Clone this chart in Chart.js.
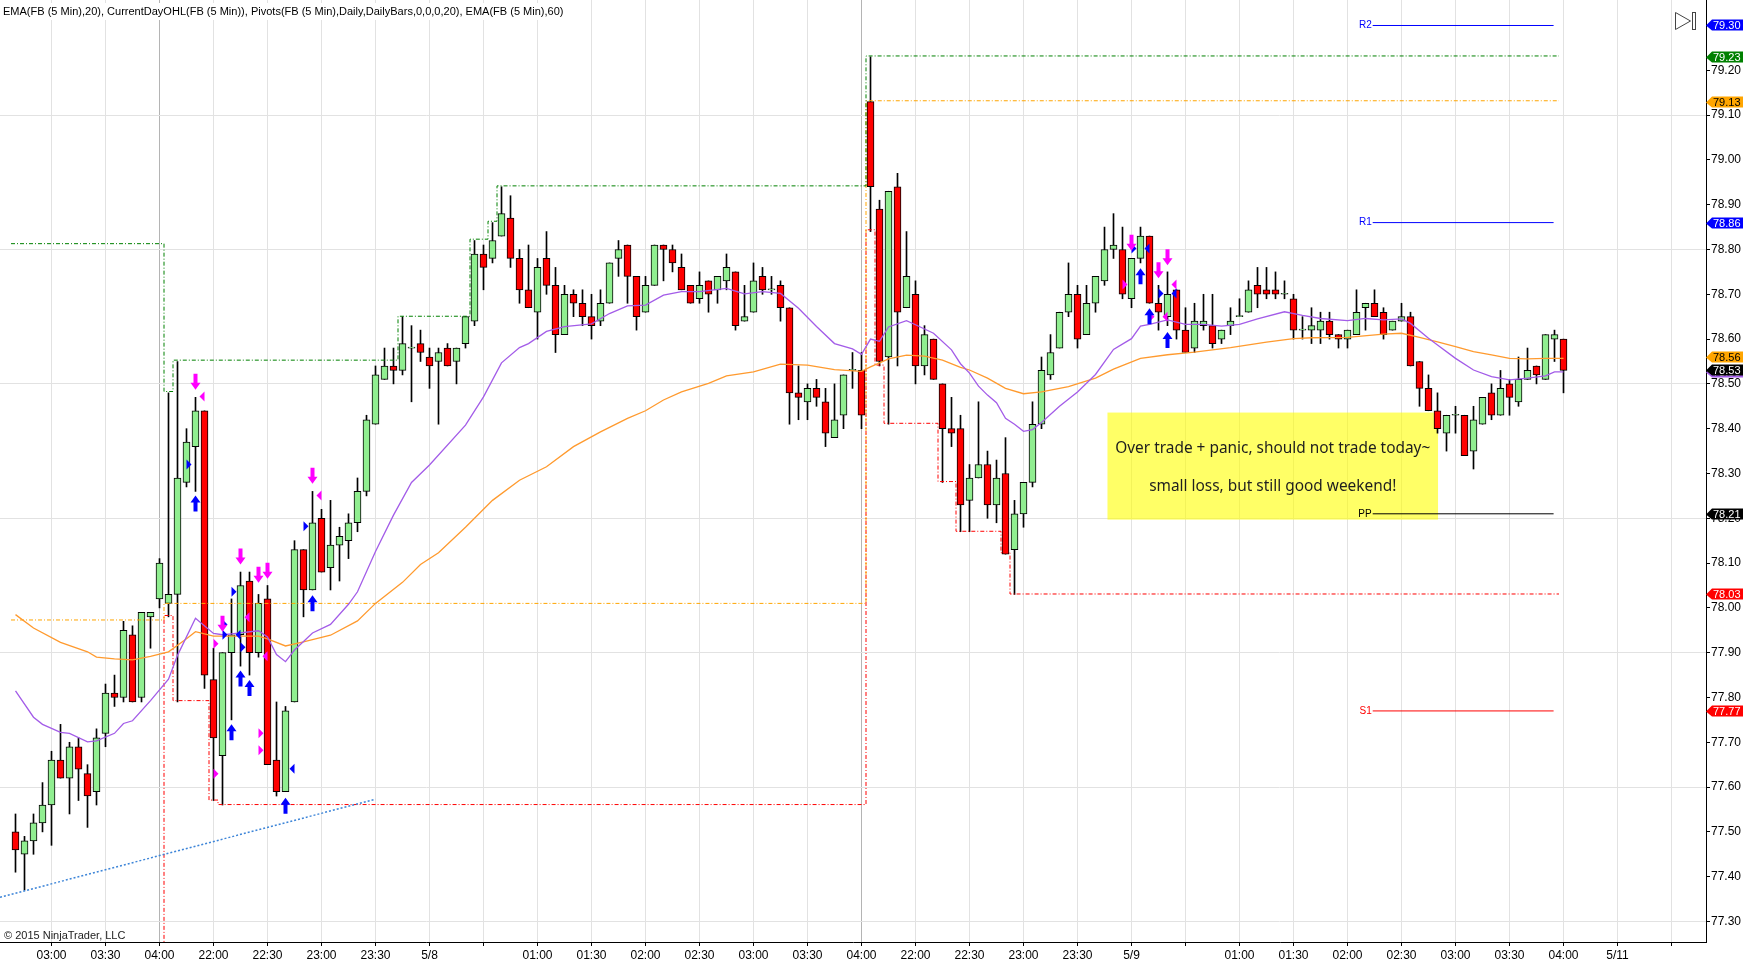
<!DOCTYPE html>
<html>
<head>
<meta charset="utf-8">
<script src="https://cdn.jsdelivr.net/npm/chart.js@4.4.1/dist/chart.umd.min.js"></script>
<style>
  html, body { margin: 0; padding: 0; background: #fff; }
  #wrap { width: 1752px; height: 969px; }
</style>
</head>
<body>
<div id="wrap"><canvas id="chart" width="1752" height="969"></canvas></div>
<script>
// FB 5 min bars, 02:40 (first session) .. 04:00 (third session), index = bar number
const opens = [
  77.50, 77.45, 77.48, 77.52, 77.56, 77.66, 77.62, 77.69, 77.63, 77.59,
  77.72, 77.81, 77.80, 77.94, 77.80, 77.98, 78.02, 78.01, 78.03, 78.28,
  78.36, 78.44, 77.84, 77.67, 77.90, 77.94, 78.06, 77.90, 78.02, 77.66,
  77.59, 77.79, 78.13, 78.04, 78.20, 78.09, 78.14, 78.15, 78.19, 78.26,
  78.41, 78.51, 78.54, 78.53, 78.58, 78.59, 78.56, 78.55, 78.58, 78.55,
  78.59, 78.64, 78.79, 78.78, 78.83, 78.87, 78.78, 78.71, 78.66, 78.78,
  78.72, 78.61, 78.70, 78.68, 78.65, 78.64, 78.68, 78.78, 78.81, 78.74,
  78.66, 78.72, 78.81, 78.80, 78.76, 78.72, 78.69, 78.73, 78.71, 78.73,
  78.75, 78.64, 78.66, 78.74, 78.71, 78.72, 78.67, 78.48, 78.46, 78.49,
  78.46, 78.38, 78.43, 78.53, 78.53, 79.13, 78.89, 78.56, 78.94, 78.67,
  78.70, 78.54, 78.60, 78.50, 78.40, 78.40, 78.24, 78.29, 78.32, 78.23,
  78.30, 78.13, 78.21, 78.28, 78.41, 78.52, 78.58, 78.66, 78.70, 78.61,
  78.68, 78.73, 78.80, 78.80, 78.69, 78.78, 78.83, 78.68, 78.65, 78.71,
  78.62, 78.58, 78.63, 78.63, 78.60, 78.63, 78.65, 78.66, 78.72, 78.71,
  78.71, 78.70, 78.69, 78.62, 78.62, 78.62, 78.64, 78.61, 78.60, 78.61,
  78.67, 78.68, 78.66, 78.62, 78.64, 78.65, 78.55, 78.49, 78.44, 78.39,
  78.43, 78.43, 78.35, 78.41, 78.48, 78.43, 78.50, 78.46, 78.51, 78.54,
  78.51, 78.60, 78.60
];
const highs = [
  77.54, 77.49, 77.54, 77.61, 77.68, 77.74, 77.70, 77.71, 77.65, 77.73,
  77.83, 77.85, 77.97, 77.96, 77.99, 77.99, 78.11, 78.48, 78.55, 78.40,
  78.47, 78.44, 77.91, 77.90, 78.02, 78.08, 78.08, 78.03, 78.05, 77.79,
  77.78, 78.15, 78.13, 78.26, 78.22, 78.24, 78.18, 78.21, 78.29, 78.43,
  78.54, 78.58, 78.58, 78.65, 78.63, 78.62, 78.58, 78.58, 78.59, 78.58,
  78.65, 78.82, 78.81, 78.86, 78.94, 78.92, 78.80, 78.81, 78.78, 78.84,
  78.76, 78.72, 78.71, 78.71, 78.70, 78.71, 78.77, 78.82, 78.81, 78.74,
  78.74, 78.81, 78.81, 78.81, 78.79, 78.72, 78.75, 78.73, 78.74, 78.79,
  78.75, 78.72, 78.77, 78.76, 78.74, 78.73, 78.67, 78.54, 78.50, 78.51,
  78.49, 78.50, 78.52, 78.57, 78.57, 79.23, 78.91, 78.93, 78.97, 78.84,
  78.73, 78.63, 78.60, 78.50, 78.47, 78.43, 78.32, 78.46, 78.35, 78.33,
  78.38, 78.24, 78.28, 78.46, 78.56, 78.61, 78.66, 78.77, 78.72, 78.72,
  78.74, 78.85, 78.88, 78.85, 78.78, 78.85, 78.83, 78.72, 78.75, 78.71,
  78.67, 78.68, 78.70, 78.70, 78.62, 78.67, 78.69, 78.73, 78.76, 78.76,
  78.75, 78.73, 78.70, 78.65, 78.67, 78.66, 78.66, 78.61, 78.62, 78.71,
  78.68, 78.71, 78.67, 78.64, 78.68, 78.66, 78.55, 78.52, 78.48, 78.43,
  78.45, 78.43, 78.45, 78.47, 78.50, 78.53, 78.51, 78.56, 78.58, 78.54,
  78.61, 78.62, 78.60
];
const lows = [
  77.41, 77.37, 77.45, 77.50, 77.47, 77.62, 77.54, 77.57, 77.51, 77.56,
  77.69, 77.78, 77.79, 77.79, 77.79, 77.91, 78.00, 77.98, 77.79, 78.27,
  78.26, 77.82, 77.57, 77.56, 77.75, 77.87, 77.85, 77.89, 77.65, 77.58,
  77.59, 77.79, 77.98, 78.04, 78.08, 78.04, 78.06, 78.11, 78.17, 78.25,
  78.41, 78.51, 78.50, 78.52, 78.46, 78.55, 78.49, 78.41, 78.54, 78.50,
  78.58, 78.63, 78.71, 78.77, 78.83, 78.76, 78.68, 78.67, 78.60, 78.70,
  78.57, 78.61, 78.65, 78.63, 78.60, 78.63, 78.68, 78.74, 78.68, 78.62,
  78.66, 78.72, 78.73, 78.75, 78.71, 78.68, 78.68, 78.66, 78.68, 78.71,
  78.62, 78.64, 78.66, 78.70, 78.70, 78.64, 78.41, 78.42, 78.42, 78.45,
  78.36, 78.38, 78.40, 78.49, 78.40, 78.84, 78.54, 78.41, 78.54, 78.67,
  78.50, 78.52, 78.51, 78.28, 78.36, 78.17, 78.17, 78.29, 78.20, 78.19,
  78.12, 78.03, 78.18, 78.27, 78.40, 78.51, 78.58, 78.65, 78.58, 78.61,
  78.66, 78.72, 78.78, 78.69, 78.67, 78.77, 78.68, 78.62, 78.63, 78.60,
  78.57, 78.57, 78.62, 78.58, 78.59, 78.61, 78.65, 78.66, 78.67, 78.69,
  78.69, 78.69, 78.60, 78.60, 78.59, 78.59, 78.60, 78.58, 78.58, 78.61,
  78.62, 78.65, 78.60, 78.62, 78.64, 78.54, 78.45, 78.44, 78.39, 78.35,
  78.39, 78.34, 78.31, 78.41, 78.42, 78.43, 78.43, 78.45, 78.51, 78.50,
  78.51, 78.55, 78.48
];
const closes = [
  77.46, 77.48, 77.52, 77.56, 77.66, 77.62, 77.69, 77.64, 77.58, 77.71,
  77.81, 77.80, 77.95, 77.79, 77.99, 77.99, 78.10, 78.03, 78.29, 78.37,
  78.44, 77.85, 77.71, 77.90, 77.94, 78.05, 77.90, 78.01, 77.65, 77.59,
  77.77, 78.13, 78.04, 78.19, 78.08, 78.14, 78.16, 78.19, 78.26, 78.42,
  78.52, 78.54, 78.53, 78.59, 78.58, 78.57, 78.54, 78.57, 78.54, 78.58,
  78.65, 78.79, 78.76, 78.82, 78.88, 78.78, 78.71, 78.67, 78.76, 78.72,
  78.61, 78.70, 78.68, 78.65, 78.63, 78.68, 78.77, 78.80, 78.74, 78.65,
  78.72, 78.81, 78.80, 78.77, 78.71, 78.68, 78.72, 78.70, 78.74, 78.76,
  78.63, 78.65, 78.73, 78.71, 78.71, 78.67, 78.48, 78.47, 78.49, 78.47,
  78.39, 78.42, 78.52, 78.53, 78.43, 78.94, 78.55, 78.93, 78.66, 78.74,
  78.54, 78.61, 78.51, 78.40, 78.39, 78.23, 78.29, 78.32, 78.23, 78.29,
  78.12, 78.21, 78.28, 78.41, 78.53, 78.57, 78.66, 78.70, 78.60, 78.68,
  78.74, 78.80, 78.81, 78.70, 78.78, 78.83, 78.68, 78.66, 78.70, 78.62,
  78.57, 78.64, 78.64, 78.59, 78.62, 78.64, 78.65, 78.71, 78.70, 78.70,
  78.70, 78.70, 78.62, 78.62, 78.63, 78.64, 78.61, 78.60, 78.62, 78.66,
  78.68, 78.65, 78.61, 78.64, 78.65, 78.54, 78.49, 78.44, 78.40, 78.43,
  78.43, 78.34, 78.42, 78.47, 78.43, 78.49, 78.47, 78.51, 78.53, 78.52,
  78.61, 78.61, 78.53
];

// EMA(20) and EMA(60) at these bars
const ema20Bars = [0,2,3,5,6,8,9,11,12,13,15,17,18,20,22,23,24,27,28,29,30,31,33,35,37,38,40,42,44,46,
  50,52,54,56,57,59,61,64,66,68,70,72,74,76,79,81,83,85,87,89,91,93,94,95,96,97,99,100,102,104,
  105,106,107,108,109,110,111,112,113,114,116,118,120,122,124,125,126,128,130,132,134,136,138,141,143,145,148,150,152,154,
  155,157,158,160,162,164,166,168,170,171,172];
const ema20Vals = [77.815,77.756,77.740,77.722,77.720,77.701,77.703,77.720,77.742,77.748,77.793,77.841,77.894,77.977,77.943,77.940,77.942,77.949,77.935,77.896,
  77.880,77.906,77.944,77.963,78.008,78.036,78.126,78.207,78.280,78.319,78.408,78.471,78.547,78.581,78.590,78.617,78.628,78.634,78.657,78.674,
  78.676,78.698,78.706,78.706,78.713,78.701,78.706,78.702,78.669,78.628,78.590,78.578,78.566,78.600,78.595,78.627,78.641,78.632,78.613,78.576,
  78.545,78.524,78.495,78.475,78.458,78.423,78.410,78.394,78.398,78.414,78.450,78.482,78.521,78.577,78.601,78.629,78.633,78.643,78.633,78.633,
  78.629,78.633,78.645,78.661,78.653,78.646,78.641,78.646,78.643,78.645,78.635,78.602,78.587,78.557,78.531,78.516,78.509,78.513,78.518,78.527,
  78.527];
const ema60Bars = [0,2,5,8,9,11,13,15,17,19,20,22,25,27,28,30,32,35,38,40,43,45,47,50,53,56,59,62,65,68,
  70,72,74,77,79,82,85,88,91,94,95,97,99,101,103,105,106,108,110,112,114,117,120,122,125,128,131,135,139,142,
  144,148,152,154,156,158,160,162,164,166,168,170,172];
const ema60Vals = [77.985,77.955,77.923,77.902,77.890,77.886,77.884,77.892,77.902,77.931,77.947,77.937,77.937,77.937,77.931,77.915,77.924,77.939,77.971,78.010,
  78.057,78.097,78.123,78.180,78.240,78.285,78.315,78.360,78.393,78.423,78.440,78.464,78.482,78.501,78.518,78.527,78.544,78.542,78.532,78.528,
  78.538,78.556,78.564,78.562,78.553,78.537,78.531,78.513,78.490,78.478,78.482,78.494,78.513,78.533,78.557,78.565,78.571,78.581,78.593,78.601,
  78.603,78.604,78.611,78.613,78.604,78.594,78.583,78.572,78.565,78.557,78.556,78.557,78.557];

// CurrentDayOHL steps: bar where a new value starts, value
const highStepBars = [0, 17, 18, 43, 51, 53, 54, 95];
const highStepVals = [78.813, 78.483, 78.553, 78.651, 78.823, 78.863, 78.942, 79.232];
const openStepBars = [0, 17, 95];
const openStepVals = [77.973, 78.010, 79.132];
const lowStepBars = [0, 17, 18, 22, 23, 95, 96, 97, 103, 105, 110, 111];
const lowStepVals = [77.0, 77.983, 77.793, 77.571, 77.561, 78.844, 78.542, 78.412, 78.282, 78.171, 78.123, 78.031];

// daily pivots
const pivotNames = ['R2', 'R1', 'PP', 'S1'];
const pivotValues = [79.30, 78.86, 78.21, 77.77];

// hand drawn trend line (bar, price)
const trendBars = [-1.72, 40.0];
const trendPrices = [77.354, 77.573];

// trade markers
const sellArrowBars = [20, 23, 25, 27, 28, 33, 124, 127, 128];
const sellArrowPrices = [78.487, 77.947, 78.097, 78.056, 78.065, 78.277, 78.797, 78.736, 78.765];
const buyArrowBars = [20, 24, 25, 26, 30, 33, 125, 126, 128];
const buyArrowPrices = [78.251, 77.740, 77.860, 77.839, 77.576, 78.028, 78.758, 78.669, 78.616];
const fillBars = [20, 20, 25, 24, 24, 24, 26, 23, 25, 27, 28, 28, 23, 30, 33, 33, 124, 125, 125, 128, 128, 128, 127, 127];
const fillPrices = [78.472, 78.320, 78.036, 77.963, 77.940, 77.940, 77.912, 77.920, 77.979, 77.892, 77.720, 77.682,
  77.630, 77.641, 78.251, 78.182, 78.722, 78.802, 78.802, 78.722, 78.702, 78.702, 78.650, 78.650];
const fillSides = ['l','r','r','r','r','l','r','r','l','l','r','r','r','l','l','r','r','r','l','l','r','l','r','l'];
const fillBuy = [0,1,1,1,1,1,1,0,0,0,0,0,0,1,0,1,0,1,1,0,1,1,0,0];

// price flags on the right axis
const flagValues = [79.30, 79.23, 79.13, 78.86, 78.56, 78.527, 78.53, 78.21, 78.03, 77.77];

// axis ticks
const xTickBars = [4, 10, 16, 22, 28, 34, 40, 46, 52, 58, 64, 70, 76, 82, 88, 94, 100, 106, 112, 118, 124, 130, 136, 142, 148, 154, 160, 166, 172, 178, 184];
const xTickText = ['03:00','03:30','04:00','22:00','22:30','23:00','23:30','5/8','','01:00','01:30','02:00','02:30','03:00','03:30','04:00',
  '22:00','22:30','23:00','23:30','5/9','','01:00','01:30','02:00','02:30','03:00','03:30','04:00','5/11',''];
const sessionEnds = [16, 94];
const yTickValues = [77.30, 77.40, 77.50, 77.60, 77.70, 77.80, 77.90, 78.00, 78.10, 78.20,
  78.30, 78.40, 78.50, 78.60, 78.70, 78.80, 78.90, 79.00, 79.10, 79.20];
const yGridValues = [77.30, 77.60, 77.90, 78.20, 78.50, 78.80, 79.10];

// ---- styles / layout ----
const UP = '#90ee90', DOWN = '#ff0000';
const flagFills = ['#0000ff', '#008000', '#ffa500', '#0000ff', '#ffa500', '#a35ce8', '#000000', '#000000', '#ff0000', '#ff0000'];
const flagInk = ['#fff', '#fff', '#000', '#fff', '#000', '#fff', '#fff', '#fff', '#fff', '#fff'];
const pivotColors = ['#0000ff', '#0000ff', '#000000', '#ff0000'];
const pivotFrom = 150.8, pivotTo = 170.9;
const stepEnd = 171.5;
const note = { from: 121.33, to: 158.06, top: 78.436, bottom: 78.197 };
const noteLines = ['Over trade + panic, should not trade today~', 'small loss, but still good weekend!'];
const headerText = 'EMA(FB (5 Min),20), CurrentDayOHL(FB (5 Min)), Pivots(FB (5 Min),Daily,DailyBars,0,0,0,20), EMA(FB (5 Min),60)';
const xMin = -15.5 / 9, xMax = -15.5 / 9 + 1706 / 9;
const yMin = 77.2542, yMax = 79.3569;
const SANS = '"Liberation Sans", Arial, sans-serif';

function stepPoints(starts, vals, end) {
  const pts = starts.map((s, k) => ({ x: s - 0.5, y: vals[k] }));
  pts.push({ x: end, y: vals[vals.length - 1] });
  return pts;
}

function arrow(ctx, cx, tipY, dir, color) {
  // dir 1: pointing down, -1: pointing up
  const h = 16, head = 7, hw = 5, sw = 2;
  ctx.fillStyle = color;
  ctx.beginPath();
  ctx.moveTo(cx, tipY);
  ctx.lineTo(cx - hw, tipY - dir * head);
  ctx.lineTo(cx - sw, tipY - dir * head);
  ctx.lineTo(cx - sw, tipY - dir * h);
  ctx.lineTo(cx + sw, tipY - dir * h);
  ctx.lineTo(cx + sw, tipY - dir * head);
  ctx.lineTo(cx + hw, tipY - dir * head);
  ctx.closePath();
  ctx.fill();
}

const overlay = {
  id: 'overlay',
  beforeDatasetsDraw(chart) {
    const { ctx, scales: { x, y } } = chart;
    const l = x.getPixelForValue(note.from), r = x.getPixelForValue(note.to);
    const t = y.getPixelForValue(note.top), b = y.getPixelForValue(note.bottom);
    ctx.save();
    ctx.fillStyle = 'rgba(255, 255, 0, 0.6)';
    ctx.fillRect(l, t, r - l, b - t);
    let size = 16;
    ctx.font = size + 'px "Noto Sans"';
    size = size * 315 / ctx.measureText(noteLines[0]).width;
    ctx.font = size.toFixed(2) + 'px "Noto Sans"';
    ctx.fillStyle = '#1e1e1e';
    ctx.textAlign = 'center';
    ctx.textBaseline = 'middle';
    ctx.fillText(noteLines[0], (l + r) / 2, t + 36);
    ctx.fillText(noteLines[1], (l + r) / 2, t + 74);
    ctx.restore();
  },
  afterDatasetsDraw(chart) {
    const { ctx, scales: { x, y } } = chart;
    ctx.save();
    // pivot labels
    ctx.font = '10px ' + SANS;
    ctx.textAlign = 'right';
    ctx.textBaseline = 'middle';
    pivotNames.forEach((n, k) => {
      ctx.fillStyle = pivotColors[k];
      ctx.fillText(n, x.getPixelForValue(pivotFrom) - 1, y.getPixelForValue(pivotValues[k]));
    });
    // executions
    fillBars.forEach((b, k) => {
      const cx = x.getPixelForValue(b), cy = y.getPixelForValue(fillPrices[k]);
      const s = fillSides[k] === 'r' ? -1 : 1;
      ctx.fillStyle = fillBuy[k] ? '#0000ff' : '#ff00ff';
      ctx.beginPath();
      ctx.moveTo(cx + s * 4, cy);
      ctx.lineTo(cx + s * 9, cy - 5);
      ctx.lineTo(cx + s * 9, cy + 5);
      ctx.closePath();
      ctx.fill();
    });
    sellArrowBars.forEach((b, k) => arrow(ctx, x.getPixelForValue(b), y.getPixelForValue(sellArrowPrices[k]), 1, '#ff00ff'));
    buyArrowBars.forEach((b, k) => arrow(ctx, x.getPixelForValue(b), y.getPixelForValue(buyArrowPrices[k]), -1, '#0000ff'));
    ctx.restore();
  },
  afterDraw(chart) {
    const { ctx, scales: { y }, chartArea } = chart;
    ctx.save();
    // header
    ctx.textBaseline = 'middle';
    ctx.textAlign = 'left';
    let size = 11;
    ctx.font = size + 'px ' + SANS;
    size = size * 561 / ctx.measureText(headerText).width;
    ctx.font = size.toFixed(2) + 'px ' + SANS;
    ctx.fillStyle = '#fff';
    ctx.fillRect(0, 3, 566, 17);
    ctx.fillStyle = '#000';
    ctx.fillText(headerText, 3, 12);
    // copyright
    ctx.font = '11px ' + SANS;
    ctx.fillStyle = '#222';
    ctx.fillText('\u00a9 2015 NinjaTrader, LLC', 4, 936);
    // scroll-to-end icon
    ctx.strokeStyle = '#444';
    ctx.lineWidth = 1;
    ctx.beginPath();
    ctx.moveTo(1675.5, 12.5); ctx.lineTo(1690.5, 21); ctx.lineTo(1675.5, 29.5); ctx.closePath();
    ctx.stroke();
    ctx.strokeRect(1692.5, 12.5, 3, 17);
    // price flags
    const ax = chartArea.right;
    ctx.font = '11px ' + SANS;
    flagValues.forEach((v, k) => {
      const cy = Math.round(y.getPixelForValue(v)) + 0.5;
      ctx.fillStyle = flagFills[k];
      ctx.beginPath();
      ctx.moveTo(ax, cy);
      ctx.lineTo(ax + 6, cy - 6);
      ctx.lineTo(ax + 37, cy - 6);
      ctx.lineTo(ax + 37, cy + 5);
      ctx.lineTo(ax + 6, cy + 5);
      ctx.closePath();
      ctx.fill();
      ctx.fillStyle = flagInk[k];
      ctx.fillText(v.toFixed(2), ax + 7, cy);
    });
    ctx.restore();
  }
};

const bodyColors = opens.map((o, i) => closes[i] >= o ? UP : DOWN);

const chart = new Chart(document.getElementById('chart').getContext('2d'), {
  type: 'bar',
  data: {
    datasets: [
      {
        label: 'wicks',
        data: lows.map((l, i) => ({ x: i, y: [l, highs[i]] })),
        backgroundColor: '#000',
        barThickness: 1,
        grouped: false,
        order: 20
      },
      {
        label: 'bodies',
        data: opens.map((o, i) => ({ x: i, y: [o, closes[i]] })),
        backgroundColor: bodyColors,
        borderColor: '#000',
        borderWidth: 1,
        borderSkipped: false,
        barThickness: 7,
        minBarLength: 1,
        grouped: false,
        order: 19
      },
      {
        type: 'line', label: 'EMA20',
        data: ema20Bars.map((b, k) => ({ x: b, y: ema20Vals[k] })),
        borderColor: '#a35ce8', borderWidth: 1.3, pointRadius: 0, order: 5
      },
      {
        type: 'line', label: 'EMA60',
        data: ema60Bars.map((b, k) => ({ x: b, y: ema60Vals[k] })),
        borderColor: '#ff9a2e', borderWidth: 1.3, pointRadius: 0, order: 6
      },
      {
        type: 'line', label: 'High',
        data: stepPoints(highStepBars, highStepVals, stepEnd),
        stepped: 'before', borderColor: '#008000', borderWidth: 1, borderDash: [4, 2, 1, 2], pointRadius: 0, order: 7
      },
      {
        type: 'line', label: 'Open',
        data: stepPoints(openStepBars, openStepVals, stepEnd),
        stepped: 'before', borderColor: '#ffa500', borderWidth: 1, borderDash: [4, 2, 1, 2], pointRadius: 0, order: 7
      },
      {
        type: 'line', label: 'Low',
        data: stepPoints(lowStepBars, lowStepVals, stepEnd),
        stepped: 'before', borderColor: '#ff0000', borderWidth: 1, borderDash: [4, 2, 1, 2], pointRadius: 0, order: 7
      },
      ...pivotValues.map((v, k) => ({
        type: 'line', label: pivotNames[k],
        data: [{ x: pivotFrom, y: v }, { x: pivotTo, y: v }],
        borderColor: pivotColors[k], borderWidth: 1, pointRadius: 0, order: 4
      })),
      {
        type: 'line', label: 'trend',
        data: trendBars.map((b, k) => ({ x: b, y: trendPrices[k] })),
        borderColor: '#3d85d8', borderWidth: 1.5, borderDash: [2, 2], pointRadius: 0, order: 3
      }
    ]
  },
  options: {
    responsive: false,
    animation: false,
    events: [],
    layout: { padding: 0 },
    plugins: { legend: { display: false }, tooltip: { enabled: false } },
    scales: {
      x: {
        type: 'linear',
        min: xMin,
        max: xMax,
        offset: false,
        afterBuildTicks: (scale) => { scale.ticks = xTickBars.map(v => ({ value: v })); },
        afterFit: (scale) => { scale.height = 27; scale.paddingLeft = 0; scale.paddingRight = 0; },
        ticks: {
          autoSkip: false, maxRotation: 0, minRotation: 0, padding: 2,
          color: '#000', font: { family: SANS, size: 12 },
          callback: (value, index) => xTickText[index]
        },
        grid: {
          offset: false,
          color: (c) => c.tick && sessionEnds.includes(c.tick.value) ? '#b4b4b4' : '#e2e2e2',
          tickColor: '#000',
          tickLength: 4
        },
        border: { display: true, color: '#000', width: 1 }
      },
      y: {
        type: 'linear',
        position: 'right',
        min: yMin,
        max: yMax,
        afterBuildTicks: (scale) => { scale.ticks = yTickValues.map(v => ({ value: v })); },
        afterFit: (scale) => { scale.width = 46; scale.paddingTop = 0; scale.paddingBottom = 0; },
        ticks: {
          padding: 1, color: '#000', font: { family: SANS, size: 12 },
          callback: (v) => v.toFixed(2)
        },
        grid: {
          color: (c) => c.tick && yGridValues.some(g => Math.abs(g - c.tick.value) < 1e-6) ? '#e2e2e2' : 'rgba(0,0,0,0)',
          tickColor: '#000',
          tickLength: 4
        },
        border: { display: true, color: '#000', width: 1 }
      }
    }
  },
  plugins: [overlay]
});
</script>
</body>
</html>
